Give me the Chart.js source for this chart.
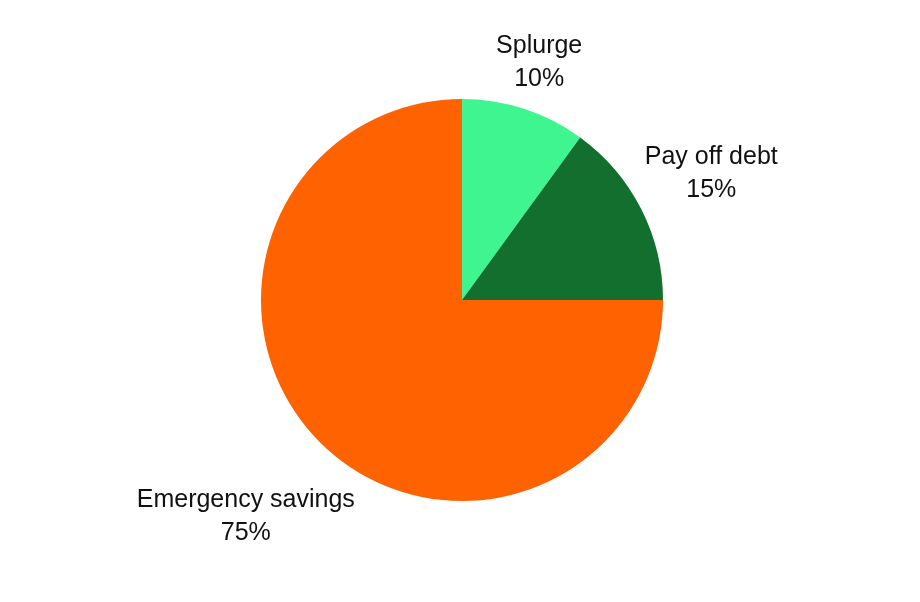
<!DOCTYPE html>
<html>
<head>
<meta charset="utf-8">
<script src="https://cdn.jsdelivr.net/npm/chart.js@4/dist/chart.umd.min.js"></script>
<style>
  html, body { margin: 0; padding: 0; background: #fff; }
  #wrap { width: 920px; height: 602px; }
</style>
</head>
<body>
<div id="wrap"><canvas id="myChart"></canvas></div>
<script>
const labels = ['Splurge', 'Pay off debt', 'Emergency savings'];
const values = [10, 15, 75];
const colors = ['#3ff58f', '#136f2e', '#ff6200'];

// labels outside the slices, two lines: name + percent
const outsideLabels = {
    id: 'outsideLabels',
    afterDatasetsDraw(chart) {
        const ctx = chart.ctx;
        const meta = chart.getDatasetMeta(0);
        const total = values.reduce((a, b) => a + b, 0);
        ctx.save();
        ctx.font = '25px "Liberation Sans", Arial, sans-serif';
        ctx.fillStyle = '#111';
        ctx.textAlign = 'center';
        ctx.textBaseline = 'middle';
        meta.data.forEach((arc, i) => {
            const mid = (arc.startAngle + arc.endAngle) / 2;
            const dx = Math.cos(mid), dy = Math.sin(mid);
            const pct = Math.round(values[i] / total * 100) + '%';
            const w = Math.max(ctx.measureText(labels[i]).width, ctx.measureText(pct).width);
            const halfW = w / 2, halfH = 32;
            const d = arc.outerRadius + 5 + Math.abs(dx) * halfW + Math.abs(dy) * halfH;
            const cx = arc.x + dx * d, cy = arc.y + dy * d;
            ctx.fillText(labels[i], cx, cy - 16);
            ctx.fillText(pct, cx, cy + 17);
        });
        ctx.restore();
    }
};

const config = {
    type: 'pie',
    data: {
        labels: labels,
        datasets: [{
            data: values,
            backgroundColor: colors,
            borderWidth: 0
        }]
    },
    options: {
        responsive: true,
        maintainAspectRatio: false,
        animation: false,
        layout: {
            padding: { top: 99, bottom: 101, left: 4, right: 0 }
        },
        plugins: {
            legend: { display: false },
            tooltip: { enabled: false }
        }
    },
    plugins: [outsideLabels]
};

const myChart = new Chart(document.getElementById('myChart'), config);
</script>
</body>
</html>
